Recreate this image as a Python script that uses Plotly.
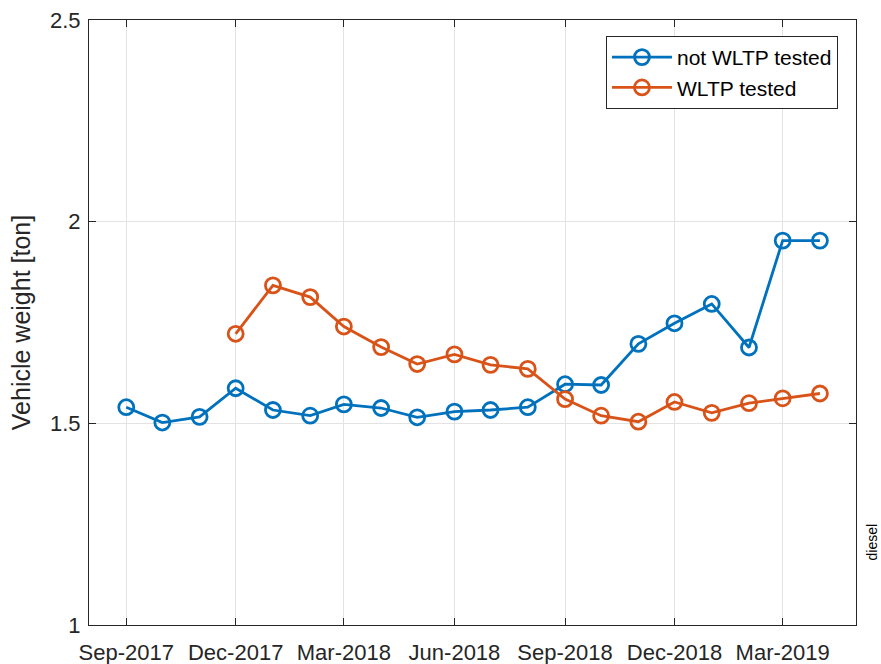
import plotly.graph_objects as go

months = ["2017-09-01", "2017-10-01", "2017-11-01", "2017-12-01", "2018-01-01",
          "2018-02-01", "2018-03-01", "2018-04-01", "2018-05-01", "2018-06-01",
          "2018-07-01", "2018-08-01", "2018-09-01", "2018-10-01", "2018-11-01",
          "2018-12-01", "2019-01-01", "2019-02-01", "2019-03-01", "2019-04-01"]

not_wltp = [1.540, 1.502, 1.516, 1.587, 1.533, 1.519, 1.547, 1.538, 1.515, 1.529,
            1.533, 1.540, 1.597, 1.595, 1.697, 1.748, 1.796, 1.688, 1.953, 1.953]

wltp_months = months[3:]
wltp = [1.722, 1.842, 1.813, 1.740, 1.689, 1.647, 1.671, 1.645, 1.635,
        1.560, 1.519, 1.504, 1.553, 1.526, 1.550, 1.562, 1.574]

tick_vals = ["2017-09-01", "2017-12-01", "2018-03-01", "2018-06-01",
             "2018-09-01", "2018-12-01", "2019-03-01"]
tick_text = ["Sep-2017", "Dec-2017", "Mar-2018", "Jun-2018",
             "Sep-2018", "Dec-2018", "Mar-2019"]

blue = "#0072BD"
orange = "#D95319"
axis_col = "#262626"
font_family = "Liberation Sans, Arial, sans-serif"

fig = go.Figure()
fig.add_trace(go.Scatter(
    x=months, y=not_wltp, mode="lines+markers", name="not WLTP tested",
    line=dict(color=blue, width=2.8),
    marker=dict(symbol="circle-open", size=15, color=blue, line=dict(width=2.8)),
))
fig.add_trace(go.Scatter(
    x=wltp_months, y=wltp, mode="lines+markers", name="WLTP tested",
    line=dict(color=orange, width=2.8),
    marker=dict(symbol="circle-open", size=15, color=orange, line=dict(width=2.8)),
))

fig.update_layout(
    width=881, height=664,
    margin=dict(l=89, r=25, t=20, b=39),
    paper_bgcolor="white", plot_bgcolor="white",
    font=dict(family=font_family, size=21, color=axis_col),
    showlegend=True,
    legend=dict(
        x=0.9765, y=0.9736, xanchor="right", yanchor="top",
        bgcolor="white", bordercolor=axis_col, borderwidth=1,
        font=dict(size=21, color="black"),
        itemwidth=60, tracegroupgap=0,
    ),
    xaxis=dict(
        type="date", range=["2017-08-01", "2019-05-01"],
        tickvals=tick_vals, ticktext=tick_text, automargin=False,
        showgrid=True, gridcolor="#e3e3e3", gridwidth=1,
        showline=True, linecolor=axis_col, linewidth=1, mirror="ticks",
        ticks="inside", ticklen=7, tickcolor=axis_col, ticklabelstandoff=8,
        tickfont=dict(size=22, color=axis_col), zeroline=False,
    ),
    yaxis=dict(
        range=[1, 2.5], tickvals=[1, 1.5, 2, 2.5], ticktext=["1", "1.5", "2", "2.5"],
        automargin=False,
        showgrid=True, gridcolor="#e3e3e3", gridwidth=1,
        showline=True, linecolor=axis_col, linewidth=1, mirror="ticks",
        ticks="inside", ticklen=7, tickcolor=axis_col, ticklabelstandoff=3,
        tickfont=dict(size=22, color=axis_col), zeroline=False,
        title=dict(text="Vehicle weight [ton]", font=dict(size=25, color=axis_col), standoff=12),
    ),
)

fig.add_annotation(
    text="diesel", x=1.0, y=0.0, xref="paper", yref="paper",
    xanchor="left", yanchor="bottom", xshift=5, yshift=62,
    textangle=-90, showarrow=False, font=dict(size=14, color="black"),
)

fig.write_html("out.html")
